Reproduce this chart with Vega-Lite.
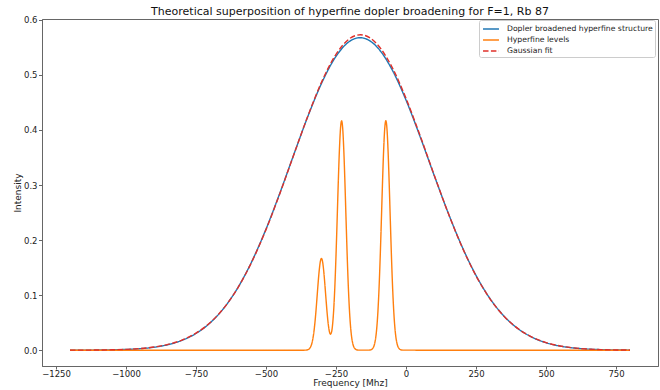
{
  "$schema": "https://vega.github.io/schema/vega-lite/v6.json",
  "width": 616,
  "height": 347,
  "autosize": "none",
  "padding": {"left": 42, "top": 19, "right": 2, "bottom": 24},
  "config": {
    "font": "DejaVu Sans",
    "view": {"stroke": "#666", "strokeWidth": 1},
    "axis": {"grid": false, "domainColor": "#666", "tickColor": "#666", "tickSize": 3.5, "labelFontSize": 8.5, "labelColor": "#222", "titleFontSize": 9, "titleFontWeight": "normal", "titleColor": "#222", "labelPadding": 1.5}
  },
  "title": {"text": "Theoretical superposition of hyperfine dopler broadening for F=1, Rb 87", "fontSize": 11, "fontWeight": "normal", "color": "#111", "anchor": "middle", "offset": -1},
  "datasets": {
    "blue": [
      {"freq": -1200, "intensity": 0.00005, "series": "Dopler broadened hyperfine structure"},
      {"freq": -1150, "intensity": 0.00012, "series": "Dopler broadened hyperfine structure"},
      {"freq": -1100, "intensity": 0.00028, "series": "Dopler broadened hyperfine structure"},
      {"freq": -1050, "intensity": 0.00063, "series": "Dopler broadened hyperfine structure"},
      {"freq": -1000, "intensity": 0.00135, "series": "Dopler broadened hyperfine structure"},
      {"freq": -950, "intensity": 0.00276, "series": "Dopler broadened hyperfine structure"},
      {"freq": -900, "intensity": 0.00539, "series": "Dopler broadened hyperfine structure"},
      {"freq": -850, "intensity": 0.01006, "series": "Dopler broadened hyperfine structure"},
      {"freq": -800, "intensity": 0.01791, "series": "Dopler broadened hyperfine structure"},
      {"freq": -750, "intensity": 0.03045, "series": "Dopler broadened hyperfine structure"},
      {"freq": -700, "intensity": 0.04947, "series": "Dopler broadened hyperfine structure"},
      {"freq": -650, "intensity": 0.07680, "series": "Dopler broadened hyperfine structure"},
      {"freq": -600, "intensity": 0.11401, "series": "Dopler broadened hyperfine structure"},
      {"freq": -550, "intensity": 0.16188, "series": "Dopler broadened hyperfine structure"},
      {"freq": -500, "intensity": 0.21995, "series": "Dopler broadened hyperfine structure"},
      {"freq": -450, "intensity": 0.28608, "series": "Dopler broadened hyperfine structure"},
      {"freq": -400, "intensity": 0.35636, "series": "Dopler broadened hyperfine structure"},
      {"freq": -350, "intensity": 0.42532, "series": "Dopler broadened hyperfine structure"},
      {"freq": -300, "intensity": 0.48657, "series": "Dopler broadened hyperfine structure"},
      {"freq": -250, "intensity": 0.53372, "series": "Dopler broadened hyperfine structure"},
      {"freq": -200, "intensity": 0.56151, "series": "Dopler broadened hyperfine structure"},
      {"freq": -175, "intensity": 0.56704, "series": "Dopler broadened hyperfine structure"},
      {"freq": -163, "intensity": 0.56760, "series": "Dopler broadened hyperfine structure"},
      {"freq": -150, "intensity": 0.56672, "series": "Dopler broadened hyperfine structure"},
      {"freq": -125, "intensity": 0.56056, "series": "Dopler broadened hyperfine structure"},
      {"freq": -100, "intensity": 0.54876, "series": "Dopler broadened hyperfine structure"},
      {"freq": -50, "intensity": 0.50982, "series": "Dopler broadened hyperfine structure"},
      {"freq": 0, "intensity": 0.45438, "series": "Dopler broadened hyperfine structure"},
      {"freq": 50, "intensity": 0.38844, "series": "Dopler broadened hyperfine structure"},
      {"freq": 100, "intensity": 0.31842, "series": "Dopler broadened hyperfine structure"},
      {"freq": 150, "intensity": 0.25020, "series": "Dopler broadened hyperfine structure"},
      {"freq": 200, "intensity": 0.18837, "series": "Dopler broadened hyperfine structure"},
      {"freq": 250, "intensity": 0.13582, "series": "Dopler broadened hyperfine structure"},
      {"freq": 300, "intensity": 0.09374, "series": "Dopler broadened hyperfine structure"},
      {"freq": 350, "intensity": 0.06190, "series": "Dopler broadened hyperfine structure"},
      {"freq": 400, "intensity": 0.03909, "series": "Dopler broadened hyperfine structure"},
      {"freq": 450, "intensity": 0.02359, "series": "Dopler broadened hyperfine structure"},
      {"freq": 500, "intensity": 0.01361, "series": "Dopler broadened hyperfine structure"},
      {"freq": 550, "intensity": 0.00749, "series": "Dopler broadened hyperfine structure"},
      {"freq": 600, "intensity": 0.00394, "series": "Dopler broadened hyperfine structure"},
      {"freq": 650, "intensity": 0.00198, "series": "Dopler broadened hyperfine structure"},
      {"freq": 700, "intensity": 0.00095, "series": "Dopler broadened hyperfine structure"},
      {"freq": 750, "intensity": 0.00043, "series": "Dopler broadened hyperfine structure"},
      {"freq": 800, "intensity": 0.00019, "series": "Dopler broadened hyperfine structure"}
    ],
    "red": [
      {"freq": -1200, "intensity": 0.00006, "series": "Gaussian fit"},
      {"freq": -1150, "intensity": 0.00015, "series": "Gaussian fit"},
      {"freq": -1100, "intensity": 0.00034, "series": "Gaussian fit"},
      {"freq": -1050, "intensity": 0.00073, "series": "Gaussian fit"},
      {"freq": -1000, "intensity": 0.00152, "series": "Gaussian fit"},
      {"freq": -950, "intensity": 0.00302, "series": "Gaussian fit"},
      {"freq": -900, "intensity": 0.00576, "series": "Gaussian fit"},
      {"freq": -850, "intensity": 0.01053, "series": "Gaussian fit"},
      {"freq": -800, "intensity": 0.01845, "series": "Gaussian fit"},
      {"freq": -750, "intensity": 0.03098, "series": "Gaussian fit"},
      {"freq": -700, "intensity": 0.04985, "series": "Gaussian fit"},
      {"freq": -650, "intensity": 0.07691, "series": "Gaussian fit"},
      {"freq": -600, "intensity": 0.11374, "series": "Gaussian fit"},
      {"freq": -550, "intensity": 0.16121, "series": "Gaussian fit"},
      {"freq": -500, "intensity": 0.21904, "series": "Gaussian fit"},
      {"freq": -450, "intensity": 0.28527, "series": "Gaussian fit"},
      {"freq": -400, "intensity": 0.35613, "series": "Gaussian fit"},
      {"freq": -350, "intensity": 0.42615, "series": "Gaussian fit"},
      {"freq": -300, "intensity": 0.48880, "series": "Gaussian fit"},
      {"freq": -250, "intensity": 0.53743, "series": "Gaussian fit"},
      {"freq": -200, "intensity": 0.56640, "series": "Gaussian fit"},
      {"freq": -175, "intensity": 0.57230, "series": "Gaussian fit"},
      {"freq": -163, "intensity": 0.57300, "series": "Gaussian fit"},
      {"freq": -150, "intensity": 0.57218, "series": "Gaussian fit"},
      {"freq": -125, "intensity": 0.56604, "series": "Gaussian fit"},
      {"freq": -100, "intensity": 0.55406, "series": "Gaussian fit"},
      {"freq": -50, "intensity": 0.51428, "series": "Gaussian fit"},
      {"freq": 0, "intensity": 0.45755, "series": "Gaussian fit"},
      {"freq": 50, "intensity": 0.39023, "series": "Gaussian fit"},
      {"freq": 100, "intensity": 0.31900, "series": "Gaussian fit"},
      {"freq": 150, "intensity": 0.24997, "series": "Gaussian fit"},
      {"freq": 200, "intensity": 0.18776, "series": "Gaussian fit"},
      {"freq": 250, "intensity": 0.13518, "series": "Gaussian fit"},
      {"freq": 300, "intensity": 0.09329, "series": "Gaussian fit"},
      {"freq": 350, "intensity": 0.06171, "series": "Gaussian fit"},
      {"freq": 400, "intensity": 0.03913, "series": "Gaussian fit"},
      {"freq": 450, "intensity": 0.02379, "series": "Gaussian fit"},
      {"freq": 500, "intensity": 0.01386, "series": "Gaussian fit"},
      {"freq": 550, "intensity": 0.00774, "series": "Gaussian fit"},
      {"freq": 600, "intensity": 0.00414, "series": "Gaussian fit"},
      {"freq": 650, "intensity": 0.00213, "series": "Gaussian fit"},
      {"freq": 700, "intensity": 0.00105, "series": "Gaussian fit"},
      {"freq": 750, "intensity": 0.00049, "series": "Gaussian fit"},
      {"freq": 800, "intensity": 0.00022, "series": "Gaussian fit"}
    ],
    "orange": [
      {"freq": -1200, "intensity": 0, "series": "Hyperfine levels"},
      {"freq": -366, "intensity": 0.00002, "series": "Hyperfine levels"},
      {"freq": -362, "intensity": 0.00006, "series": "Hyperfine levels"},
      {"freq": -358, "intensity": 0.00016, "series": "Hyperfine levels"},
      {"freq": -354, "intensity": 0.00041, "series": "Hyperfine levels"},
      {"freq": -350, "intensity": 0.00100, "series": "Hyperfine levels"},
      {"freq": -346, "intensity": 0.00226, "series": "Hyperfine levels"},
      {"freq": -342, "intensity": 0.00476, "series": "Hyperfine levels"},
      {"freq": -338, "intensity": 0.00936, "series": "Hyperfine levels"},
      {"freq": -334, "intensity": 0.01712, "series": "Hyperfine levels"},
      {"freq": -330, "intensity": 0.02919, "series": "Hyperfine levels"},
      {"freq": -326, "intensity": 0.04634, "series": "Hyperfine levels"},
      {"freq": -322, "intensity": 0.06852, "series": "Hyperfine levels"},
      {"freq": -318, "intensity": 0.09436, "series": "Hyperfine levels"},
      {"freq": -314, "intensity": 0.12103, "series": "Hyperfine levels"},
      {"freq": -310, "intensity": 0.14457, "series": "Hyperfine levels"},
      {"freq": -306, "intensity": 0.16085, "series": "Hyperfine levels"},
      {"freq": -302, "intensity": 0.16667, "series": "Hyperfine levels"},
      {"freq": -298, "intensity": 0.16086, "series": "Hyperfine levels"},
      {"freq": -294, "intensity": 0.14462, "series": "Hyperfine levels"},
      {"freq": -290, "intensity": 0.12117, "series": "Hyperfine levels"},
      {"freq": -286, "intensity": 0.09475, "series": "Hyperfine levels"},
      {"freq": -282, "intensity": 0.06954, "series": "Hyperfine levels"},
      {"freq": -278, "intensity": 0.04883, "series": "Hyperfine levels"},
      {"freq": -274, "intensity": 0.03483, "series": "Hyperfine levels"},
      {"freq": -270, "intensity": 0.02902, "series": "Hyperfine levels"},
      {"freq": -266, "intensity": 0.03274, "series": "Hyperfine levels"},
      {"freq": -262, "intensity": 0.04757, "series": "Hyperfine levels"},
      {"freq": -258, "intensity": 0.07524, "series": "Hyperfine levels"},
      {"freq": -254, "intensity": 0.11686, "series": "Hyperfine levels"},
      {"freq": -250, "intensity": 0.17172, "series": "Hyperfine levels"},
      {"freq": -246, "intensity": 0.23607, "series": "Hyperfine levels"},
      {"freq": -242, "intensity": 0.30264, "series": "Hyperfine levels"},
      {"freq": -238, "intensity": 0.36148, "series": "Hyperfine levels"},
      {"freq": -234, "intensity": 0.40215, "series": "Hyperfine levels"},
      {"freq": -230, "intensity": 0.41667, "series": "Hyperfine levels"},
      {"freq": -226, "intensity": 0.40215, "series": "Hyperfine levels"},
      {"freq": -222, "intensity": 0.36146, "series": "Hyperfine levels"},
      {"freq": -218, "intensity": 0.30259, "series": "Hyperfine levels"},
      {"freq": -214, "intensity": 0.23591, "series": "Hyperfine levels"},
      {"freq": -210, "intensity": 0.17131, "series": "Hyperfine levels"},
      {"freq": -206, "intensity": 0.11586, "series": "Hyperfine levels"},
      {"freq": -202, "intensity": 0.07299, "series": "Hyperfine levels"},
      {"freq": -198, "intensity": 0.04281, "series": "Hyperfine levels"},
      {"freq": -194, "intensity": 0.02339, "series": "Hyperfine levels"},
      {"freq": -190, "intensity": 0.01190, "series": "Hyperfine levels"},
      {"freq": -186, "intensity": 0.00564, "series": "Hyperfine levels"},
      {"freq": -182, "intensity": 0.00249, "series": "Hyperfine levels"},
      {"freq": -178, "intensity": 0.00102, "series": "Hyperfine levels"},
      {"freq": -174, "intensity": 0.00039, "series": "Hyperfine levels"},
      {"freq": -170, "intensity": 0.00014, "series": "Hyperfine levels"},
      {"freq": -166, "intensity": 0.00005, "series": "Hyperfine levels"},
      {"freq": -136, "intensity": 0.00005, "series": "Hyperfine levels"},
      {"freq": -132, "intensity": 0.00014, "series": "Hyperfine levels"},
      {"freq": -128, "intensity": 0.00039, "series": "Hyperfine levels"},
      {"freq": -124, "intensity": 0.00102, "series": "Hyperfine levels"},
      {"freq": -120, "intensity": 0.00249, "series": "Hyperfine levels"},
      {"freq": -116, "intensity": 0.00564, "series": "Hyperfine levels"},
      {"freq": -112, "intensity": 0.01190, "series": "Hyperfine levels"},
      {"freq": -108, "intensity": 0.02339, "series": "Hyperfine levels"},
      {"freq": -104, "intensity": 0.04281, "series": "Hyperfine levels"},
      {"freq": -100, "intensity": 0.07299, "series": "Hyperfine levels"},
      {"freq": -96, "intensity": 0.11586, "series": "Hyperfine levels"},
      {"freq": -92, "intensity": 0.17131, "series": "Hyperfine levels"},
      {"freq": -88, "intensity": 0.23591, "series": "Hyperfine levels"},
      {"freq": -84, "intensity": 0.30259, "series": "Hyperfine levels"},
      {"freq": -80, "intensity": 0.36146, "series": "Hyperfine levels"},
      {"freq": -76, "intensity": 0.40215, "series": "Hyperfine levels"},
      {"freq": -72, "intensity": 0.41667, "series": "Hyperfine levels"},
      {"freq": -68, "intensity": 0.40215, "series": "Hyperfine levels"},
      {"freq": -64, "intensity": 0.36146, "series": "Hyperfine levels"},
      {"freq": -60, "intensity": 0.30259, "series": "Hyperfine levels"},
      {"freq": -56, "intensity": 0.23591, "series": "Hyperfine levels"},
      {"freq": -52, "intensity": 0.17131, "series": "Hyperfine levels"},
      {"freq": -48, "intensity": 0.11586, "series": "Hyperfine levels"},
      {"freq": -44, "intensity": 0.07299, "series": "Hyperfine levels"},
      {"freq": -40, "intensity": 0.04281, "series": "Hyperfine levels"},
      {"freq": -36, "intensity": 0.02339, "series": "Hyperfine levels"},
      {"freq": -32, "intensity": 0.01190, "series": "Hyperfine levels"},
      {"freq": -28, "intensity": 0.00564, "series": "Hyperfine levels"},
      {"freq": -24, "intensity": 0.00249, "series": "Hyperfine levels"},
      {"freq": -20, "intensity": 0.00102, "series": "Hyperfine levels"},
      {"freq": -16, "intensity": 0.00039, "series": "Hyperfine levels"},
      {"freq": -12, "intensity": 0.00014, "series": "Hyperfine levels"},
      {"freq": -8, "intensity": 0.00005, "series": "Hyperfine levels"},
      {"freq": 800, "intensity": 0, "series": "Hyperfine levels"}
    ]
  },
  "encoding": {
    "x": {"field": "freq", "type": "quantitative", "scale": {"domain": [-1300, 900], "nice": false, "zero": false},
      "axis": {"values": [-1250, -1000, -750, -500, -250, 0, 250, 500, 750], "format": "d", "title": "Frequency [Mhz]", "titlePadding": 0, "tickSize": 3, "labelPadding": 0.5}},
    "y": {"field": "intensity", "type": "quantitative", "scale": {"domain": [-0.0287, 0.6016], "nice": false, "zero": false},
      "axis": {"values": [0, 0.1, 0.2, 0.3, 0.4, 0.5, 0.6], "format": ".1f", "title": "Intensity", "titlePadding": 0.5}},
    "color": {"field": "series", "type": "nominal",
      "scale": {"domain": ["Dopler broadened hyperfine structure", "Hyperfine levels", "Gaussian fit"], "range": ["#1f77b4", "#ff7f0e", "#e0302a"]},
      "legend": {"title": null, "orient": "none", "legendX": 437, "legendY": 1, "symbolType": "M-0.83,0H1.83", "symbolSize": 144, "symbolStrokeWidth": 1.5, "labelFontSize": 7.7, "labelColor": "#222", "labelOffset": 12, "labelLimit": 0, "rowPadding": 0, "padding": 2, "strokeColor": "#ccc", "fillColor": "white", "cornerRadius": 2}},
    "strokeDash": {"field": "series", "type": "nominal",
      "scale": {"domain": ["Dopler broadened hyperfine structure", "Hyperfine levels", "Gaussian fit"], "range": [[1, 0], [1, 0], [5.5, 2.4]]},
      "legend": {"title": null, "orient": "none", "legendX": 437, "legendY": 1, "symbolType": "M-0.83,0H1.83", "symbolSize": 144, "symbolStrokeWidth": 1.5, "labelFontSize": 7.7, "labelColor": "#222", "labelOffset": 12, "labelLimit": 0, "rowPadding": 0, "padding": 2, "strokeColor": "#ccc", "fillColor": "white", "cornerRadius": 2}}
  },
  "layer": [
    {"data": {"name": "blue"}, "mark": {"type": "line", "interpolate": "monotone", "strokeWidth": 1.4}},
    {"data": {"name": "orange"}, "mark": {"type": "line", "interpolate": "monotone", "strokeWidth": 1.4}},
    {"data": {"name": "red"}, "mark": {"type": "line", "interpolate": "monotone", "strokeWidth": 1.4}}
  ]
}
